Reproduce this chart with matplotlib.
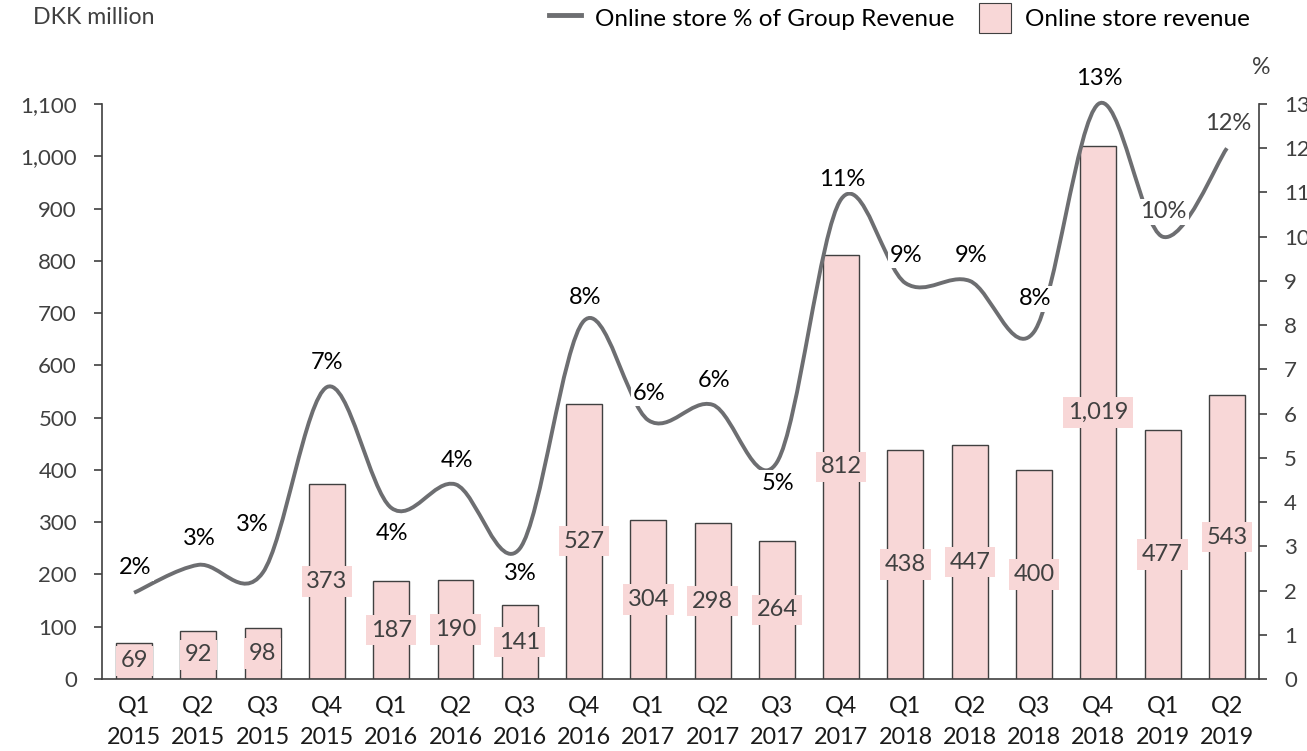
import matplotlib
matplotlib.use("Agg")
import matplotlib.pyplot as plt
from matplotlib.path import Path
from matplotlib.patches import PathPatch, Patch
from matplotlib.lines import Line2D
from matplotlib.ticker import FuncFormatter, MultipleLocator

plt.rcParams['font.family'] = ['Lato', 'DejaVu Sans']

quarters = ["Q1", "Q2", "Q3", "Q4", "Q1", "Q2", "Q3", "Q4", "Q1", "Q2", "Q3", "Q4",
            "Q1", "Q2", "Q3", "Q4", "Q1", "Q2"]
years = ["2015"] * 4 + ["2016"] * 4 + ["2017"] * 4 + ["2018"] * 4 + ["2019"] * 2
revenue = [69, 92, 98, 373, 187, 190, 141, 527, 304, 298, 264, 812,
           438, 447, 400, 1019, 477, 543]
share_pct = [1.95, 2.58, 2.4, 6.6, 3.87, 4.4, 2.95, 8.1, 5.85, 6.2, 4.9, 10.85,
             8.95, 9.0, 7.85, 13.0, 10.0, 12.0]
share_labels = ["2%", "3%", "3%", "7%", "4%", "4%", "3%", "8%", "6%", "6%", "5%", "11%",
                "9%", "9%", "8%", "13%", "10%", "12%"]

# label offsets in pixels (dx, dy) relative to each point
label_offsets = [(1, 25), (1, 26), (-10, 48), (0, 25), (1, -26), (1, 24), (1, -25), (1, 23),
                 (1, 27), (1, 24), (1, -21), (1, 20), (1, 28), (1, 25), (1, 33), (1, 26),
                 (1, 25), (1, 25)]
label_colors = ["black"] * 16 + ["#404040", "#404040"]

PINK = "#F8D7D7"
EDGE = "#404040"
LINE = "#6D6E71"
TXT = "#404040"

fig = plt.figure(figsize=(13.07, 7.51), dpi=100)
ax = fig.add_axes([0.078, 0.0959, 0.8853, 0.7656])
ax2 = ax.twinx()

x = list(range(len(revenue)))
ax.bar(x, revenue, width=0.56, color=PINK, edgecolor=EDGE, linewidth=1.0, zorder=2)
for xi, v in zip(x, revenue):
    ax.text(xi, v / 2, f"{v:,}", ha="center", va="center", fontsize=17, color=TXT,
            zorder=3, bbox=dict(boxstyle="square,pad=0.2", fc=PINK, ec="none"))

ax.set_xlim(-0.5, len(revenue) - 0.5)
ax.set_ylim(0, 1100)
ax.yaxis.set_major_locator(MultipleLocator(100))
ax.yaxis.set_major_formatter(FuncFormatter(lambda v, p: f"{int(v):,}"))
ax.set_xticks(x)
ax.set_xticklabels([f"{q}\n{y}" for q, y in zip(quarters, years)], fontsize=16.8,
                   color="#1a1a1a", linespacing=1.6)
ax.tick_params(axis="x", length=0, pad=12)
ax.tick_params(axis="y", length=6, width=1.2, color=EDGE, labelsize=16,
               labelcolor=TXT, pad=12)

ax2.set_ylim(0, 13)
ax2.yaxis.set_major_locator(MultipleLocator(1))
ax2.tick_params(axis="y", length=6, width=1.2, color=EDGE, labelsize=16,
                labelcolor=TXT, pad=12)

for a in (ax, ax2):
    a.spines["top"].set_visible(False)
    for s in ("left", "right", "bottom"):
        a.spines[s].set_color(EDGE)
        a.spines[s].set_linewidth(1.2)
ax.spines["right"].set_visible(False)
ax2.spines["left"].set_visible(False)
ax2.spines["bottom"].set_visible(False)

# smooth line (Catmull-Rom as cubic Bezier)
n = len(share_pct)
pts = list(zip(x, share_pct))
verts = [pts[0]]
codes = [Path.MOVETO]
for i in range(n - 1):
    p0 = pts[i - 1] if i > 0 else pts[i]
    p1 = pts[i]
    p2 = pts[i + 1]
    p3 = pts[i + 2] if i + 2 < n else pts[i + 1]
    c1 = (p1[0] + (p2[0] - p0[0]) / 6, p1[1] + (p2[1] - p0[1]) / 6)
    c2 = (p2[0] - (p3[0] - p1[0]) / 6, p2[1] - (p3[1] - p1[1]) / 6)
    verts += [c1, c2, p2]
    codes += [Path.CURVE4] * 3
patch = PathPatch(Path(verts, codes), fc="none", ec=LINE, lw=2.8, zorder=4,
                  capstyle="butt", clip_on=False)
ax2.add_patch(patch)

for xi, v, lab, (dx, dy), c in zip(x, share_pct, share_labels, label_offsets, label_colors):
    ax2.annotate(lab, (xi, v), xytext=(dx, dy), textcoords="offset pixels",
                 ha="center", va="center", fontsize=17, color=c, zorder=5,
                 annotation_clip=False,
                 bbox=dict(boxstyle="square,pad=0.1", fc="white", ec="none"))

ax.set_zorder(1)
ax2.set_zorder(2)
ax2.patch.set_visible(False)

fig.text(33 / 1307, 1 - 18 / 751, "DKK million", fontsize=16.7, color=TXT,
         ha="left", va="center")
fig.text(1261 / 1307, 1 - 68 / 751, "%", fontsize=16.7, color=TXT, ha="center", va="center")

handles = [Line2D([0], [0], color=LINE, lw=3.5),
           Patch(fc=PINK, ec=EDGE, lw=0.8)]
fig.legend(handles, ["Online store % of Group Revenue", "Online store revenue"],
           loc="center right", bbox_to_anchor=(1250 / 1307, 1 - 18 / 751), ncol=2,
           frameon=False, fontsize=17.5, handlelength=1.3, handleheight=1.5,
           columnspacing=1.0, handletextpad=0.6, borderaxespad=0, borderpad=0)

fig.savefig("out.png", dpi=100)
